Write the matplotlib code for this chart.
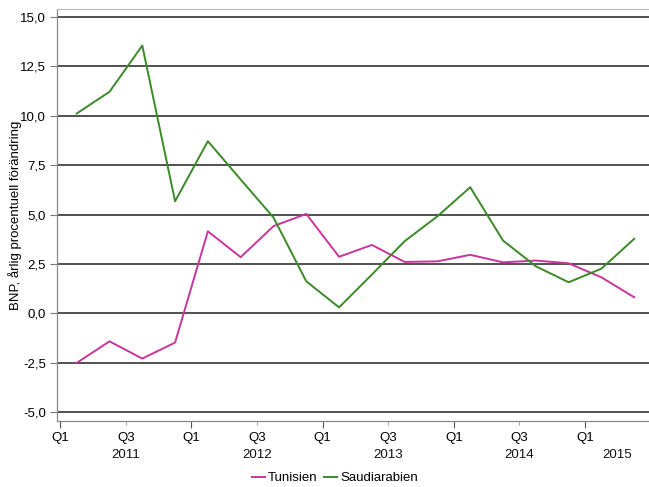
import matplotlib
matplotlib.use("Agg")
import matplotlib.pyplot as plt
import matplotlib.transforms as mtransforms
from matplotlib.ticker import FuncFormatter

plt.rcParams["font.family"] = ["Liberation Sans", "DejaVu Sans"]

# Kvartal Q1 2011 .. Q2 2015
quarters = ["Q1", "Q2", "Q3", "Q4"] * 4 + ["Q1", "Q2"]
years = [2011] * 4 + [2012] * 4 + [2013] * 4 + [2014] * 4 + [2015] * 2

tunisien = [-2.51, -1.42, -2.29, -1.48, 4.15, 2.84, 4.41, 5.03, 2.86,
            3.46, 2.60, 2.63, 2.96, 2.58, 2.67, 2.53, 1.82, 0.81]
saudiarabien = [10.11, 11.21, 13.55, 5.67, 8.71, 6.77, 4.85, 1.62, 0.30,
                1.96, 3.65, 4.91, 6.38, 3.68, 2.38, 1.57, 2.26, 3.77]

yticks = [-5.0, -2.5, 0.0, 2.5, 5.0, 7.5, 10.0, 12.5, 15.0]

C_TUN = "#C8359C"
C_SAU = "#3A8A27"
FS = 9.5

fig = plt.figure(figsize=(6.49, 4.87), dpi=100)
ax = fig.add_axes([57 / 649, 66 / 487, 1 - 57 / 649, 412 / 487])

x = list(range(len(quarters)))
xmin, xmax = -0.6, 17.45

for y in yticks:
    ax.axhline(y, color="#333333", lw=1.2, zorder=1)

ax.plot(x, tunisien, color=C_TUN, lw=1.4, label="Tunisien", zorder=3)
ax.plot(x, saudiarabien, color=C_SAU, lw=1.4, label="Saudiarabien", zorder=3)

ax.set_xlim(xmin, xmax)
ax.set_ylim(-5.45, 15.4)

ax.set_yticks(yticks)
ax.yaxis.set_major_formatter(FuncFormatter(lambda v, p: f"{v:.1f}".replace(".", ",")))
ax.tick_params(axis="y", length=5, width=0.8, color="#777777", labelsize=FS, pad=3)

q1_pos = [i - 0.5 for i, q in enumerate(quarters) if q == "Q1"]
q3_pos = [i - 0.5 for i, q in enumerate(quarters) if q == "Q3"]
ax.set_xticks(q1_pos)
ax.set_xticklabels(["Q1"] * len(q1_pos))
ax.set_xticks(q3_pos, minor=True)
ax.set_xticklabels(["Q3"] * len(q3_pos), minor=True)
ax.tick_params(axis="x", which="major", length=5, width=0.8, color="#555555",
               labelsize=FS, pad=3)
ax.tick_params(axis="x", which="minor", length=3, width=0.8, color="#aaaaaa",
               labelsize=FS, pad=5)

# årtal centrerade under varje år (klippt mot axeln)
trans = mtransforms.blended_transform_factory(ax.transData, ax.transAxes)
for yr in sorted(set(years)):
    idx = [i for i, y in enumerate(years) if y == yr]
    start = max(idx[0] - 0.5, xmin)
    end = min(idx[0] + 3.5, xmax)
    ax.text((start + end) / 2, -0.083, str(yr), transform=trans,
            ha="center", va="center", fontsize=FS, color="#111111")

for side in ["left", "bottom"]:
    ax.spines[side].set_color("#888888")
    ax.spines[side].set_linewidth(0.9)
ax.spines["top"].set_color("#bbbbbb")
ax.spines["right"].set_visible(False)

fig.text(15 / 649, 0.558, "BNP, årlig procentuell förändring", rotation=90,
         ha="center", va="center", fontsize=FS)

fig.legend(loc="center", bbox_to_anchor=(335 / 649, 9 / 487), ncol=2,
           frameon=False, fontsize=FS, handlelength=1.0, handletextpad=0.2,
           columnspacing=0.5, borderaxespad=0)

fig.savefig("out.png", dpi=100)
